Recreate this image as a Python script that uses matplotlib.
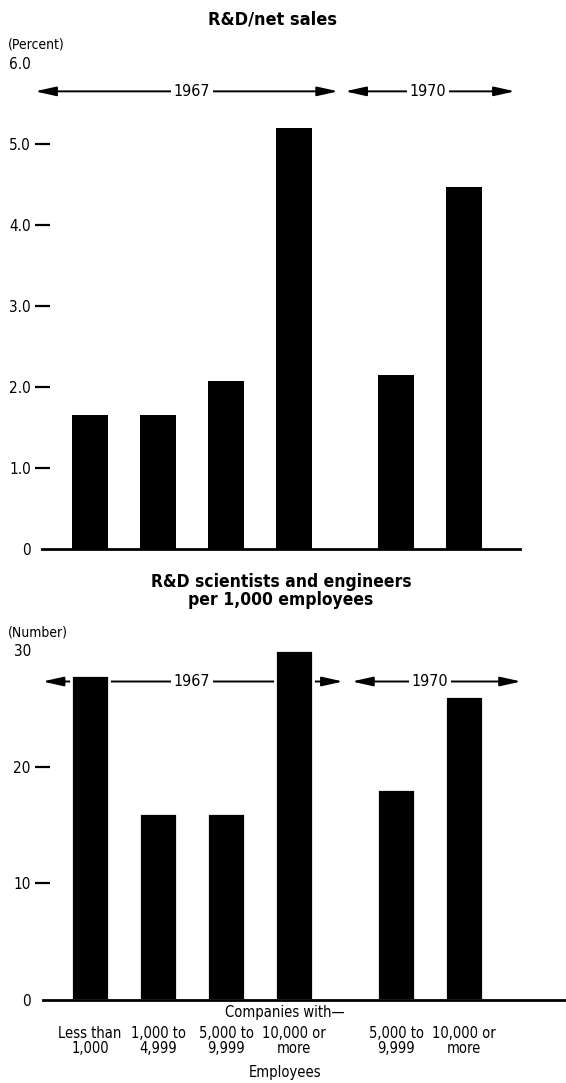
import matplotlib
matplotlib.use("Agg")
import matplotlib.pyplot as plt

plt.rcParams['font.family'] = ['DejaVu Sans']
plt.rcParams['font.stretch'] = 'condensed'

# bar data
positions = [0, 1, 2, 3, 4.5, 5.5]
categories = ["Less than\n1,000", "1,000 to\n4,999", "5,000 to\n9,999",
              "10,000 or\nmore", "5,000 to\n9,999", "10,000 or\nmore"]
sales_pct = [1.65, 1.65, 2.07, 5.2, 2.15, 4.47]
sci_per_1000 = [27.9, 16.0, 16.0, 30.0, 18.1, 26.1]

sales_ticks = [0, 1, 2, 3, 4, 5, 6]
sales_ticklabels = ["0", "1.0", "2.0", "3.0", "4.0", "5.0", "6.0"]
sci_ticks = [0, 10, 20, 30]
sci_ticklabels = ["0", "10", "20", "30"]

W, H = 566, 1083
fig = plt.figure(figsize=(W / 100, H / 100), dpi=100)

def px_axes(left, right, top, bottom):
    return fig.add_axes([left / W, (H - bottom) / H, (right - left) / W, (bottom - top) / H])

def style_axes(ax, ticks, ticklabels, ylim, spine_from, spine_to):
    ax.set_xlim(-0.81, 7.0)
    ax.set_ylim(*ylim)
    for s in ['left', 'right', 'top']:
        ax.spines[s].set_visible(False)
    ax.spines['bottom'].set_linewidth(2)
    ax.spines['bottom'].set_bounds(spine_from, spine_to)
    ax.set_yticks(ticks)
    ax.set_yticklabels(ticklabels, fontsize=11)
    ax.tick_params(axis='y', direction='in', length=11, width=1.6, pad=3)
    ticks_obj = ax.yaxis.get_major_ticks()
    ticks_obj[0].tick1line.set_visible(False)
    ticks_obj[-1].tick1line.set_visible(False)

def year_arrow(ax, x0, x1, xt, y, label):
    ax.annotate('', xy=(x1, y), xytext=(x0, y),
                arrowprops=dict(arrowstyle='<|-|>,head_length=0.9,head_width=0.2',
                                lw=1.4, color='black',
                                shrinkA=0, shrinkB=0, mutation_scale=14),
                zorder=1, annotation_clip=False)
    ax.text(xt, y, label, ha='center', va='center', fontsize=11.5,
            bbox=dict(facecolor='white', edgecolor='none', pad=2), zorder=1.5)

# top panel: R&D / net sales
ax1 = px_axes(35, 566, 63, 549)
ax1.bar(positions, sales_pct, width=0.52, color='black', zorder=2, clip_on=False)
style_axes(ax1, sales_ticks, sales_ticklabels, (0, 6.0), -0.71, 6.32)
ax1.set_xticks([])
year_arrow(ax1, -0.81, 3.65, 1.5, 5.65, "1967")
year_arrow(ax1, 3.75, 6.25, 4.97, 5.65, "1970")
fig.text(273 / W, 1 - 19 / H, "R&D/net sales", ha='center', va='center',
         fontsize=13, fontweight='bold')
fig.text(8 / W, 1 - 45 / H, "(Percent)", ha='left', va='center', fontsize=10)

# bottom panel: scientists and engineers per 1,000 employees
ax2 = px_axes(35, 566, 650, 1000)
ax2.bar(positions, sci_per_1000, width=0.56, color='black', edgecolor='white',
        linewidth=2, zorder=2, clip_on=False)
style_axes(ax2, sci_ticks, sci_ticklabels, (0, 30), -0.69, 7.0)
ax2.set_xticks(positions)
ax2.set_xticklabels(categories, fontsize=10.5, linespacing=0.95)
ax2.tick_params(axis='x', length=0, pad=19)
year_arrow(ax2, -0.7, 3.72, 1.5, 27.3, "1967")
year_arrow(ax2, 3.85, 6.34, 5.0, 27.3, "1970")
fig.text(281 / W, 1 - 591 / H, "R&D scientists and engineers\nper 1,000 employees",
         ha='center', va='center', fontsize=12.5, fontweight='bold', linespacing=0.95)
fig.text(8 / W, 1 - 632 / H, "(Number)", ha='left', va='center', fontsize=10)
fig.text(285 / W, 1 - 1013 / H, "Companies with\u2014", ha='center', va='center', fontsize=10.5)
fig.text(285 / W, 1 - 1073 / H, "Employees", ha='center', va='center', fontsize=10.5)

fig.savefig("out.png", dpi=100)
